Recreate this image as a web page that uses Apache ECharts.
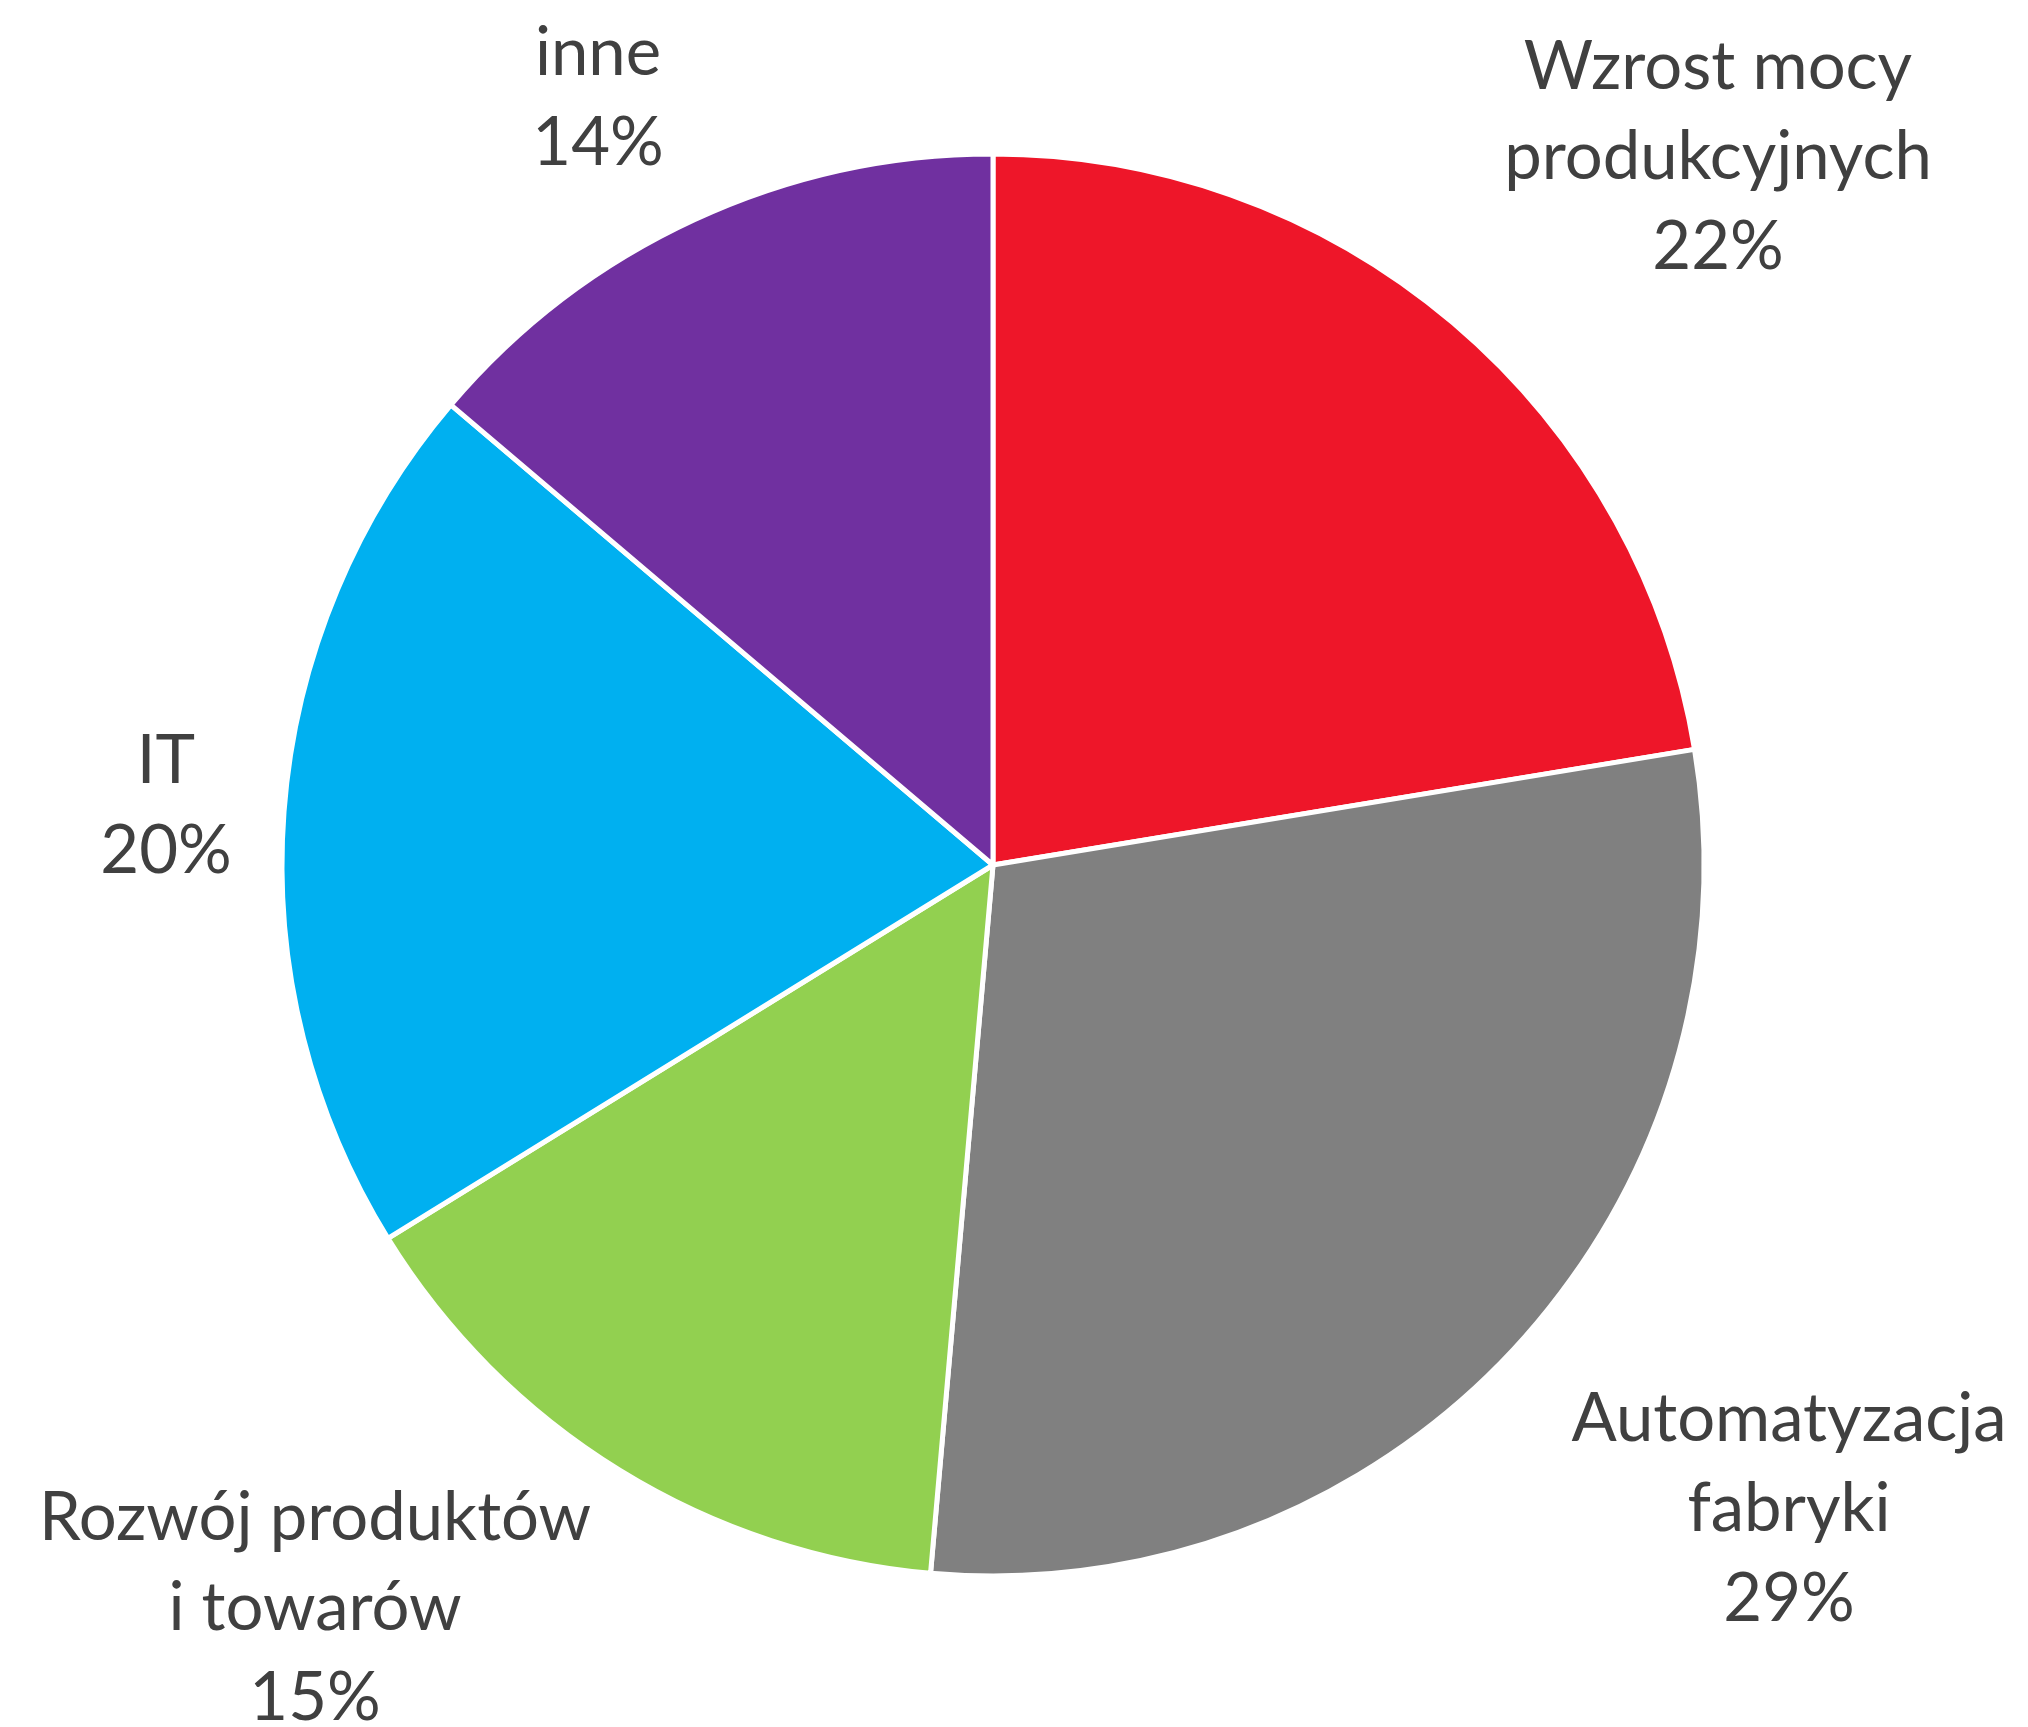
<!DOCTYPE html>
<html>
<head>
<meta charset="utf-8">
<script src="https://cdn.jsdelivr.net/npm/echarts@6/dist/echarts.min.js"></script>
<style>
html,body{margin:0;padding:0;background:#fff;}
#chart{width:2028px;height:1727px;}
</style>
</head>
<body>
<div id="chart"></div>
<script>
// Data
const categories = ['Wzrost mocy\nprodukcyjnych', 'Automatyzacja\nfabryki', 'Rozwój produktów\ni towarów', 'IT', 'inne'];
const values = [22.4, 29.0, 14.8, 20.0, 13.8];
const colors = ['#EE1629', '#808080', '#92D050', '#00B0F0', '#7030A0'];

// Label anchor positions (text block centres, px)
const labelPos = [[1718, 157], [1789, 1509], [315, 1608], [166, 806], [598, 98]];

const chart = echarts.init(document.getElementById('chart'), null, {renderer: 'canvas'});
chart.setOption({
  backgroundColor: '#ffffff',
  animation: false,
  series: [{
    type: 'pie',
    center: [993, 865],
    radius: [0, 711],
    startAngle: 90,
    clockwise: true,
    percentPrecision: 0,
    data: categories.map((c, i) => ({name: c, value: values[i], itemStyle: {color: colors[i]}})),
    itemStyle: {borderColor: '#ffffff', borderWidth: 5},
    label: {
      show: true,
      position: 'outside',
      formatter: '{b}\n{d}%',
      fontFamily: 'Lato',
      fontSize: 67,
      lineHeight: 90,
      color: '#404040',
      align: 'center'
    },
    labelLine: {show: false},
    labelLayout: function (params) {
      const p = labelPos[params.dataIndex];
      return {x: p[0], y: p[1], align: 'center', verticalAlign: 'middle'};
    },
    emphasis: {disabled: true}
  }]
});
</script>
</body>
</html>
